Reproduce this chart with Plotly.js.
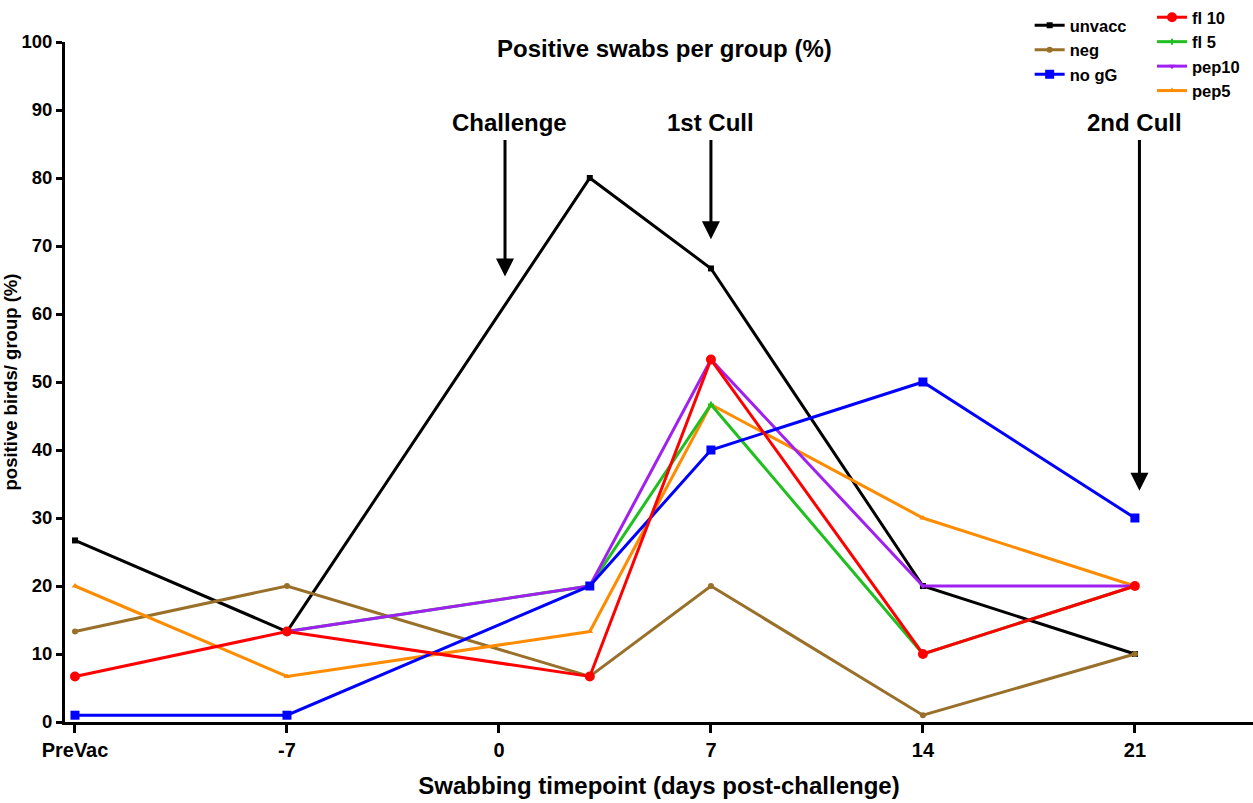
<!DOCTYPE html>
<html><head><meta charset="utf-8">
<script src="https://cdn.plot.ly/plotly-3.0.1.min.js"></script>
<style>body{margin:0;background:#fff}#c{width:1253px;height:803px}</style>
</head><body><div id="c"></div>
<script>
const days = [-14, -7, 3, 7, 14, 21];
const tickVals = [-14, -7, 0, 7, 14, 21];
const tickText = ["PreVac", "-7", "0", "7", "14", "21"];
const unvacc = [26.7, 13.3, 80, 66.7, 20, 10];
const neg = [13.3, 20, 6.7, 20, 1, 10];
const noGG = [1, 1, 20, 40, 50, 30];
const fl10 = [6.7, 13.3, 6.7, 53.3, 10, 20];
const fl5 = [null, 13.3, 20, 46.7, 10, 20];
const pep10 = [null, 13.3, 20, 53.3, 20, 20];
const pep5 = [20, 6.7, 13.3, 46.7, 30, 20];
const events = [
  {label: "Challenge", x: 0.2, tx: 0.36, tip: 65.5},
  {label: "1st Cull", x: 7, tx: 7, tip: 71},
  {label: "2nd Cull", x: 21.15, tx: 21, tip: 34}
];

const F = "Liberation Sans, Arial, sans-serif";
function tr(name, y, color, symbol, size, legend, rank) {
  return {x: days, y: y, name: name, type: 'scatter', mode: 'lines+markers',
    line: {color: color, width: 3}, marker: {color: color, symbol: symbol, size: size},
    legend: legend, legendrank: rank, connectgaps: false};
}
const data = [
  tr("unvacc", unvacc, "#000000", "square", 6, "legend", 1),
  tr("neg", neg, "#99702a", "circle", 6, "legend", 2),
  tr("pep5", pep5, "#ff8c00", "triangle-up", 6, "legend2", 4),
  tr("fl 5", fl5, "#1fbf1f", "cross", 5, "legend2", 2),
  tr("pep10", pep10, "#a020f0", "triangle-down", 6, "legend2", 3),
  tr("no gG", noGG, "#0000ff", "square", 9, "legend", 3),
  tr("fl 10", fl10, "#ff0000", "circle", 10, "legend2", 1)
];

const ann = [{text: "Positive swabs per group (%)", xref: 'paper', yref: 'paper', x: 0.505, y: 0.99,
  yanchor: 'middle', showarrow: false, font: {family: F, size: 24, weight: 'bold', color: '#000'}}];
events.forEach(e => {
  ann.push({text: e.label, x: e.tx, y: 88.2, yanchor: 'middle', showarrow: false,
    font: {family: F, size: 24, weight: 'bold', color: '#000'}});
  ann.push({text: '', x: e.x, y: e.tip, ax: e.x, ay: 85.8, axref: 'x', ayref: 'y',
    showarrow: true, arrowhead: 2, arrowsize: 1.2, arrowwidth: 3, arrowcolor: '#000'});
});

const legFont = {family: F, size: 16.5, weight: 'bold', color: '#000'};
const layout = {
  width: 1253, height: 803,
  margin: {l: 65, r: 0, t: 40, b: 81},
  paper_bgcolor: '#fff', plot_bgcolor: '#fff',
  showlegend: true,
  legend: {x: 0.812, y: 1.05, xanchor: 'left', yanchor: 'top', font: legFont,
    bgcolor: 'rgba(0,0,0,0)', tracegroupgap: 0, itemwidth: 30},
  legend2: {x: 0.915, y: 1.062, xanchor: 'left', yanchor: 'top', font: legFont,
    bgcolor: 'rgba(0,0,0,0)', tracegroupgap: 0, itemwidth: 30},
  xaxis: {range: [-14.33, 24.9], tickvals: tickVals, ticktext: tickText,
    showgrid: false, zeroline: false, showline: true, linewidth: 3, linecolor: '#000',
    ticks: 'outside', ticklen: 8, tickwidth: 3, tickcolor: '#000',
    tickfont: {family: F, size: 20, weight: 'bold', color: '#000'},
    title: {text: "Swabbing timepoint (days post-challenge)", standoff: 18,
      font: {family: F, size: 24, weight: 'bold', color: '#000'}}},
  yaxis: {range: [0, 100], tickvals: [0,10,20,30,40,50,60,70,80,90,100],
    showgrid: false, zeroline: false, showline: true, linewidth: 3, linecolor: '#000',
    ticks: 'outside', ticklen: 6, tickwidth: 3, tickcolor: '#000',
    tickfont: {family: F, size: 18.5, weight: 'bold', color: '#000'},
    title: {text: "positive birds/ group (%)", standoff: 8,
      font: {family: F, size: 18.5, weight: 'bold', color: '#000'}}},
  annotations: ann
};
Plotly.newPlot('c', data, layout, {displayModeBar: false});
</script></body></html>
